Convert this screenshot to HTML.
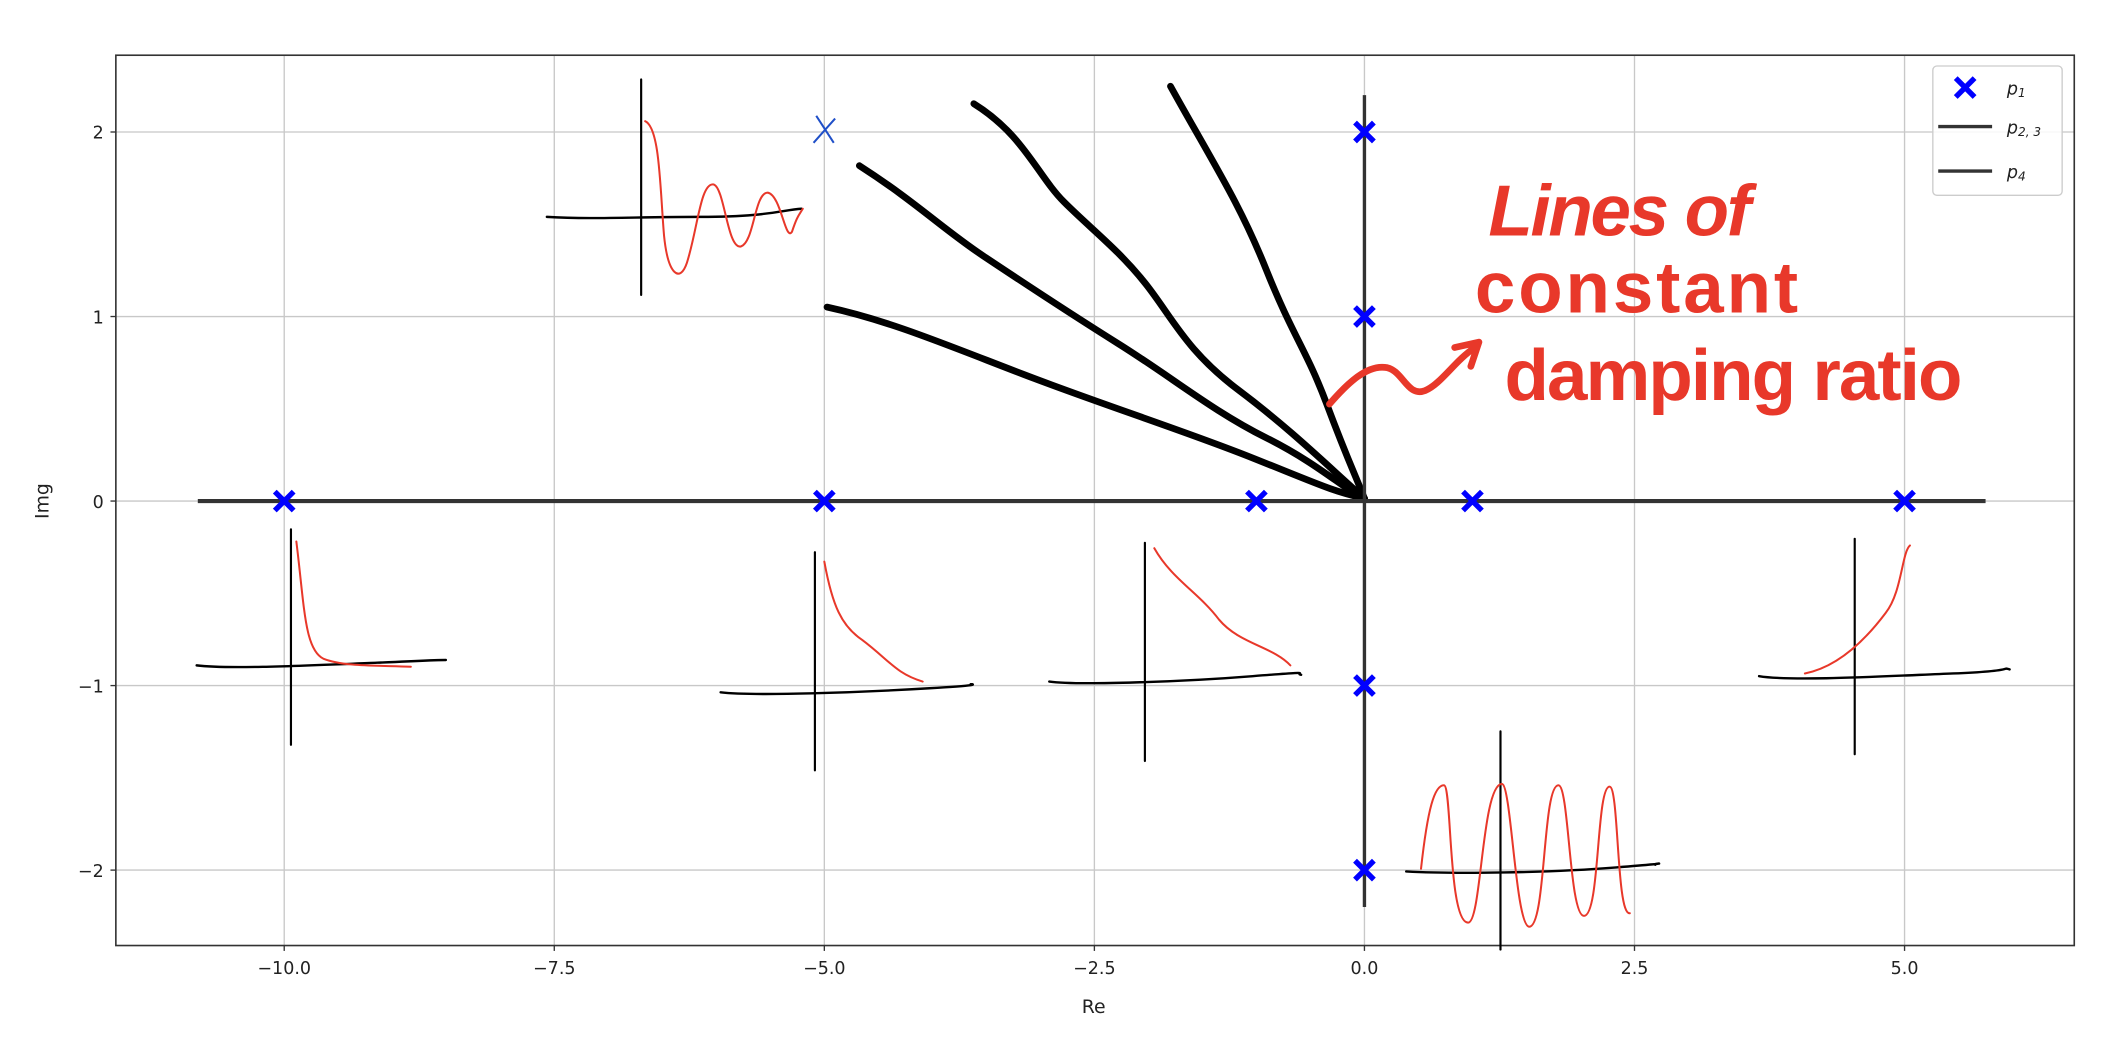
<!DOCTYPE html>
<html><head><meta charset="utf-8"><style>
html,body{margin:0;padding:0;background:#fff;}
svg{display:block;}
text{font-family:"DejaVu Sans","Liberation Sans",sans-serif;}
</style></head><body>
<svg id="chart" width="2112" height="1058" viewBox="0 0 1568 785.5" xmlns="http://www.w3.org/2000/svg">
<g id="grid"></g>
<g id="axes"></g>
<g id="sketches" fill="none" stroke-linecap="round" stroke-linejoin="round">
  <g>
    <path d="M476,59 L476,219" stroke="#000" stroke-width="1.6"/>
    <path d="M406,161 C440,163 470,161 520,161 S580,156 595,155" stroke="#000" stroke-width="1.8"/>
    <path d="M479,90 C490,95 490,140 493,175 C496,205 505,210 510,195 C518,170 520,135 530,137 C538,140 540,185 550,183 C560,180 560,143 570,143 C580,145 583,180 588,172 C592,160 593,160 596,155" stroke="#e8382a" stroke-width="1.5"/>
  </g>
  <g>
    <path d="M216,393 L216,553" stroke="#000" stroke-width="1.6"/>
    <path d="M146,494 C170,497 230,494 280,492 S320,490 331,490" stroke="#000" stroke-width="1.8"/>
    <path d="M220,402 C226,450 226,482 240,489 C255,495 280,494 305,495" stroke="#e8382a" stroke-width="1.5"/>
  </g>
  <g>
    <path d="M605,410 L605,572" stroke="#000" stroke-width="1.6"/>
    <path d="M535,514 C560,517 640,514 690,511 S715,508 722,508" stroke="#000" stroke-width="1.8"/>
    <path d="M612,417 C618,450 625,465 640,475 C660,490 665,500 685,506" stroke="#e8382a" stroke-width="1.5"/>
  </g>
  <g>
    <path d="M850,403 L850,565" stroke="#000" stroke-width="1.6"/>
    <path d="M779,506 C800,509 880,506 930,502 S960,500 966,501" stroke="#000" stroke-width="1.8"/>
    <path d="M857,407 C870,430 890,440 905,460 C920,478 945,480 958,494" stroke="#e8382a" stroke-width="1.5"/>
  </g>
  <g>
    <path d="M1377,400 L1377,560" stroke="#000" stroke-width="1.6"/>
    <path d="M1306,502 C1330,506 1400,502 1450,500 S1485,495 1492,497" stroke="#000" stroke-width="1.8"/>
    <path d="M1340,500 C1365,495 1385,475 1400,455 C1412,440 1412,410 1418,405" stroke="#e8382a" stroke-width="1.5"/>
  </g>
  <g>
    <path d="M1114,543 L1114,705" stroke="#000" stroke-width="1.6"/>
    <path d="M1044,647 C1080,649 1150,648 1200,644 S1225,641 1229,642" stroke="#000" stroke-width="1.8"/>
    <path d="M1055,645 C1060,600 1065,583 1072,583 C1078,583 1075,685 1090,685 C1100,685 1100,583 1115,582 C1122,582 1125,685 1135,688 C1148,690 1145,583 1157,583 C1165,583 1165,680 1176,680 C1188,680 1185,584 1195,584 C1202,584 1200,680 1210,678" stroke="#e8382a" stroke-width="1.5"/>
  </g>
</g>
<g id="damping" fill="none" stroke="#000" stroke-width="5" stroke-linecap="round" stroke-linejoin="round">
  <path d="M614,228 C660,238 700,255 760,278 S880,320 930,340 S990,365 1013,370"/>
  <path d="M638,123 C680,150 700,170 730,190 S790,230 830,255 S900,305 940,325 S1000,365 1013,370"/>
  <path d="M723,77 C760,100 770,130 790,150 S830,185 850,210 S880,260 920,290 S990,350 1013,370"/>
  <path d="M869,64 C900,120 920,150 940,200 S970,260 985,300 S1005,350 1013,370"/>
</g>
<g id="marks"></g>
<g>
  <path d="M987,300 C1000,285 1015,270 1030,273 C1042,276 1045,295 1058,290 C1070,285 1080,268 1095,258 M1080,258 L1098,254 L1092,272" fill="none" stroke="#e8382a" stroke-width="5" stroke-linecap="round" stroke-linejoin="round"/>
  <text x="1105" y="175" font-size="54" font-style="italic" font-weight="bold" fill="#e8382a" style="font-family:'Liberation Sans',sans-serif" textLength="195">Lines of</text>
  <text x="1095" y="232" font-size="54" font-weight="bold" fill="#e8382a" style="font-family:'Liberation Sans',sans-serif" textLength="240">constant</text>
  <text x="1117" y="297" font-size="54" font-weight="bold" fill="#e8382a" style="font-family:'Liberation Sans',sans-serif" textLength="340">damping ratio</text>
</g>
<g id="legend">
  <rect x="1435" y="49" width="96" height="96" rx="3" fill="#fff" fill-opacity="0.85" stroke="#ccc" stroke-width="1"/>
  <g>
    <path d="M1452,58 L1466,72 M1466,58 L1452,72" stroke="#0000ff" stroke-width="4"/>
    <text x="1490" y="70" font-size="13" font-style="italic" fill="#222">p<tspan font-size="9" dy="2">1</tspan></text>
  </g>
  <g>
    <path d="M1439,94 L1479,94" stroke="#333" stroke-width="2.5"/>
    <text x="1490" y="99" font-size="13" font-style="italic" fill="#222">p<tspan font-size="9" dy="2">2, 3</tspan></text>
  </g>
  <g>
    <path d="M1439,127 L1479,127" stroke="#333" stroke-width="2.5"/>
    <text x="1490" y="132" font-size="13" font-style="italic" fill="#222">p<tspan font-size="9" dy="2">4</tspan></text>
  </g>
</g>
</svg>
<script>
const xTicks = [-10, -7.5, -5, -2.5, 0, 2.5, 5];
const xTickLabels = ["\u221210.0", "\u22127.5", "\u22125.0", "\u22122.5", "0.0", "2.5", "5.0"];
const yTicks = [-2, -1, 0, 1, 2];
const yTickLabels = ["\u22122", "\u22121", "0", "1", "2"];
const poleRe = [-10, -5, -1, 1, 5, 0, 0, 0, 0];
const poleIm = [0, 0, 0, 0, 0, 2, 1, -1, -2];
const realAxisRange = [-10.8, 5.75];
const imagAxisRange = [-2.2, 2.2];
const extraPoleRe = [-5];
const extraPoleIm = [2];

const L = 86, R = 1540, T = 41, B = 702;
function sx(v){ return 1013 + v * 80.2; }
function sy(v){ return 372 - v * 137; }
const NS = "http://www.w3.org/2000/svg";
function mk(tag, attrs, parent){ const e = document.createElementNS(NS, tag); for (const k in attrs) e.setAttribute(k, attrs[k]); parent.appendChild(e); return e; }

const grid = document.getElementById('grid');
const axes = document.getElementById('axes');
const marks = document.getElementById('marks');

xTicks.forEach((v, i) => {
  const g = mk('line', {x1: sx(v), x2: sx(v), y1: T, y2: B, stroke: '#c8c8c8', 'stroke-width': 1}, grid);
  
  
  const t = mk('line', {x1: sx(v), x2: sx(v), y1: B, y2: B + 4, stroke: '#333', 'stroke-width': 1}, axes);
  
  
  const lb = mk('text', {x: sx(v), y: B + 21, 'font-size': 13, 'text-anchor': 'middle', fill: '#222'}, axes);
  lb.textContent = xTickLabels[i];
  
  
});
yTicks.forEach((v, i) => {
  const g = mk('line', {x1: L, x2: R, y1: sy(v), y2: sy(v), stroke: '#c8c8c8', 'stroke-width': 1}, grid);
  
  
  const t = mk('line', {x1: L - 4, x2: L, y1: sy(v), y2: sy(v), stroke: '#333', 'stroke-width': 1}, axes);
  
  
  const lb = mk('text', {x: L - 9, y: sy(v) + 5, 'font-size': 13, 'text-anchor': 'end', fill: '#222'}, axes);
  lb.textContent = yTickLabels[i];
  
  
});
const frame = mk('rect', {x: L, y: T, width: R - L, height: B - T, fill: 'none', stroke: '#333', 'stroke-width': 1.2}, axes);


const xt = mk('text', {x: 812, y: B + 50, 'font-size': 14, 'text-anchor': 'middle', fill: '#222'}, axes);
xt.textContent = 'Re';


const yt = mk('text', {x: 0, y: 0, 'font-size': 14, 'text-anchor': 'middle', fill: '#222', transform: 'translate(36,' + sy(0) + ') rotate(-90)'}, axes);
yt.textContent = 'Img';



const ra = mk('line', {x1: sx(realAxisRange[0]), x2: sx(realAxisRange[1]), y1: sy(0), y2: sy(0), stroke: '#333', 'stroke-width': 3}, marks);


const ia = mk('line', {x1: sx(0), x2: sx(0), y1: sy(imagAxisRange[1]), y2: sy(imagAxisRange[0]), stroke: '#333', 'stroke-width': 2.5}, marks);



poleRe.forEach((re, i) => {
  const x = sx(re), y = sy(poleIm[i]), d = 7;
  const p = mk('path', {d: `M${x-d},${y-d} L${x+d},${y+d} M${x+d},${y-d} L${x-d},${y+d}`, stroke: '#0000ff', 'stroke-width': 4}, marks);
  
  
});
extraPoleRe.forEach((re, i) => {
  const x = sx(re), y = sy(extraPoleIm[i]), d = 8;
  const p = mk('path', {d: `M${x-d+2},${y-d-4} L${x+d-1},${y+d} M${x+d},${y-d-2} L${x-d},${y+d}`, stroke: '#1f4fc8', 'stroke-width': 1.5}, marks);
  
  
});
</script>
</body></html>
